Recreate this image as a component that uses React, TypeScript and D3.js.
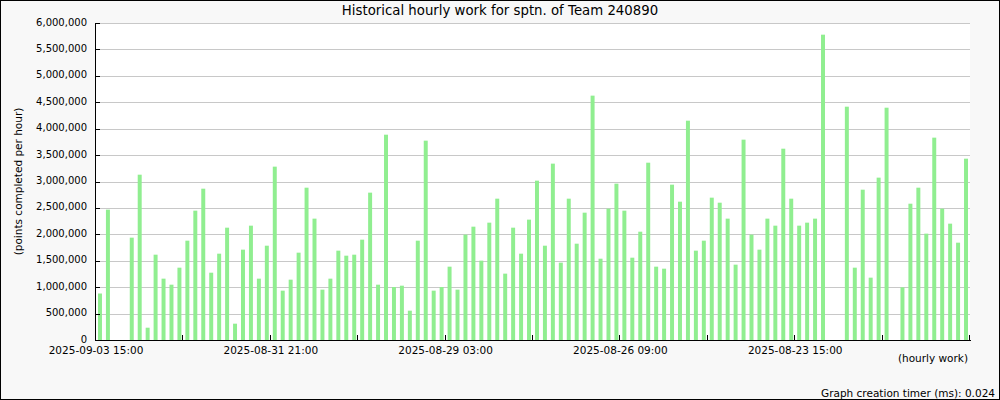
import React from "react";
import * as d3 from "d3";

const TITLE = "Historical hourly work for sptn. of Team 240890";
const Y_TITLE = "(points completed per hour)";
const X_TITLE = "(hourly work)";
const FOOTER = "Graph creation timer (ms): 0.024";

// values per 3-hour slot, newest first (points)
const values: number[] = [
  880000, 2467000, 0, 0, 1937000, 3129000, 233000, 1615000, 1161000, 1047000,
  1369000, 1880000, 2448000, 2864000, 1274000, 1634000, 2126000, 309000, 1710000, 2164000,
  1161000, 1785000, 3281000, 934000, 1142000, 1653000, 2883000, 2297000, 953000, 1161000,
  1691000, 1596000, 1615000, 1899000, 2789000, 1047000, 3886000, 1003000, 1028000, 555000,
  1880000, 3773000, 934000, 1003000, 1388000, 953000, 1994000, 2145000, 1502000, 2221000,
  2675000, 1256000, 2126000, 1634000, 2278000, 3016000, 1785000, 3338000, 1464000, 2675000,
  1823000, 2410000, 4625000, 1539000, 2486000, 2959000, 2448000, 1558000, 2050000, 3356000,
  1388000, 1350000, 2940000, 2618000, 4151000, 1691000, 1880000, 2694000, 2599000, 2297000,
  1426000, 3792000, 1994000, 1710000, 2297000, 2164000, 3621000, 2675000, 2164000, 2221000,
  2297000, 5779000, 0, 0, 4416000, 1369000, 2845000, 1180000, 3073000, 4397000,
  0, 997000, 2580000, 2883000, 2013000, 3830000, 2486000, 2202000, 1842000, 3432000,
];

const yTicks: number[] = [0, 500000, 1000000, 1500000, 2000000, 2500000, 3000000, 3500000, 4000000, 4500000, 5000000, 5500000, 6000000];
const xTickIndices: number[] = [0, 11, 22, 33, 44, 55, 66, 77, 88, 99, 110];
const xLabelIndices: number[] = [0, 22, 44, 66, 88];
const xLabels: string[] = ["2025-09-03 15:00", "2025-08-31 21:00", "2025-08-29 03:00", "2025-08-26 09:00", "2025-08-23 15:00"];

const W = 1000;
const H = 400;
const left = 96;
const right = 970;
const top = 23;
const bottom = 340;

export default function App() {
  const idx = values.map((_, i) => i);
  const xBand = d3.scaleBand<number>().domain(idx).range([left, right]).paddingInner(0.5).paddingOuter(0.25);
  const xLin = d3.scaleLinear().domain([0, values.length]).range([left, right]);
  const y = d3.scaleLinear().domain([0, 6000000]).range([bottom, top]);
  const fmt = d3.format(",");
  const font = "'DejaVu Sans', sans-serif";

  return (
    <svg width={W} height={H} style={{ position: "absolute", left: 0, top: 0 }} fontFamily={font}>
      <rect x={0.5} y={0.5} width={W - 1} height={H - 1} fill="#f8f8f8" stroke="#000" />
      <rect x={left} y={top} width={right - left} height={bottom - top} fill="#ffffff" />
      {yTicks.map((t) => (
        <line key={"g" + t} x1={left} x2={right} y1={Math.round(y(t)) + 0.5} y2={Math.round(y(t)) + 0.5} stroke="#c8c8c8" />
      ))}
      {values.map((v, i) =>
        v > 0 ? (
          <rect key={i} x={xBand(i)} y={y(v)} width={xBand.bandwidth()} height={bottom - y(v)} fill="#90ee90" />
        ) : null
      )}
      <line x1={left - 0.5} x2={left - 0.5} y1={top} y2={bottom + 1} stroke="#000" />
      <line x1={left - 1} x2={right + 1} y1={bottom + 0.5} y2={bottom + 0.5} stroke="#000" />
      {yTicks.map((t) => (
        <g key={"yt" + t}>
          <line x1={left} x2={left + 4} y1={Math.round(y(t)) + 0.5} y2={Math.round(y(t)) + 0.5} stroke="#000" />
          <text x={left - 9} y={y(t) - 1} dy="0.35em" textAnchor="end" fontSize={10} fill="#000">
            {fmt(t)}
          </text>
        </g>
      ))}
      {xTickIndices.map((i) => (
        <line key={"xt" + i} x1={Math.round(xLin(i)) - 0.5} x2={Math.round(xLin(i)) - 0.5} y1={bottom - 5} y2={bottom} stroke="#000" />
      ))}
      {xLabelIndices.map((i, k) => (
        <text key={"xl" + i} x={xLin(i)} y={354} textAnchor="middle" fontSize={10.5} fill="#000">
          {xLabels[k]}
        </text>
      ))}
      <text x={W / 2} y={15} textAnchor="middle" fontSize={13.3} fill="#000">
        {TITLE}
      </text>
      <text transform={`translate(22,${(top + bottom) / 2}) rotate(-90)`} textAnchor="middle" fontSize={10.5} fill="#000">
        {Y_TITLE}
      </text>
      <text x={968} y={362} textAnchor="end" fontSize={10.5} fill="#000">
        {X_TITLE}
      </text>
      <text x={995} y={397} textAnchor="end" fontSize={10.5} fill="#000">
        {FOOTER}
      </text>
    </svg>
  );
}
